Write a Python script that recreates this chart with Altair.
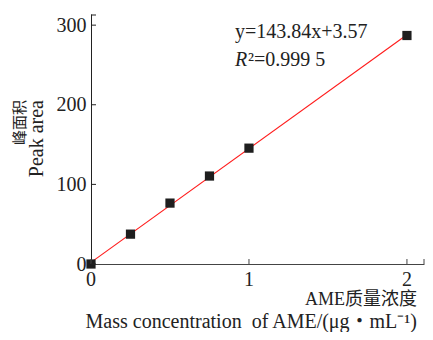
import altair as alt
import pandas as pd

# data
conc = [0, 0.25, 0.5, 0.75, 1.0, 2.0]
area = [0, 37.5, 76.5, 110.5, 145.5, 287.0]
fit_x = [0, 2.0]
fit_y = [2.0, 288.0]
x_ticks = [0, 1, 2]
x_tick_labels = ["0", "1", "2"]
y_ticks = [0, 100, 200, 300]
x_domain = [0, 2.108]
y_domain = [0, 314]
equation = "y=143.84x+3.57"
r2_symbol = "R"
r2_rest = "²=0.999 5"
x_title_cn = "AME质量浓度"
x_title_en = "Mass concentration\u00a0\u00a0of AME/(μg・mL⁻¹)"
y_title_cn = "峰面积"
y_title_en = "Peak area"

FONT = "Liberation Serif, Times New Roman, Noto Sans CJK SC"
INK = "#222222"
W, H = 333, 250

pts = pd.DataFrame({"x": conc, "y": area})
fit = pd.DataFrame({"x": fit_x, "y": fit_y})
xt = pd.DataFrame({"x": x_ticks, "lab": x_tick_labels})
yt = pd.DataFrame({"y": y_ticks})
one = pd.DataFrame({"a": [0]})

xs = alt.Scale(domain=x_domain, nice=False, zero=False)
ys = alt.Scale(domain=y_domain, nice=False, zero=False)

x_axis = alt.Axis(values=x_ticks, ticks=False, grid=False, domainColor="#444444",
                  labels=False, title="")
y_axis = alt.Axis(values=y_ticks, ticks=False, grid=False, domainColor="#222222",
                  labelFont=FONT, labelFontSize=20, labelColor=INK, labelPadding=5,
                  labelFlush=False, labelOverlap=False, labelBound=False,
                  format="d", title="")

X = lambda: alt.X("x:Q", scale=xs, axis=x_axis, title="")
Y = lambda: alt.Y("y:Q", scale=ys, axis=y_axis, title="")

line = alt.Chart(fit).mark_line(color="#ff1a1a", strokeWidth=1.1, clip=False).encode(
    x=X(), y=Y()
)
points = alt.Chart(pts).mark_square(size=85, color="#1e1e1e", opacity=1, clip=False).encode(
    x=X(), y=Y()
)
xtick = alt.Chart(xt).mark_rule(color="#444444").encode(
    x=X(), y=alt.value(H), y2=alt.value(H - 5)
)
xlab = alt.Chart(xt).mark_text(font=FONT, fontSize=20, color=INK, baseline="middle",
                               align="center").encode(
    x=X(), y=alt.value(H + 16), text="lab:N"
)
ytick = alt.Chart(yt).mark_rule(color="#222222").encode(
    y=Y(), x=alt.value(0), x2=alt.value(5)
)
end_x = alt.Chart(one).mark_rule(color="#444444").encode(
    x=alt.value(W), y=alt.value(H), y2=alt.value(H - 5)
)
end_y = alt.Chart(one).mark_rule(color="#222222").encode(
    y=alt.value(1), x=alt.value(0), x2=alt.value(5)
)

def txt(s, x, y, size, **kw):
    return alt.Chart(one).mark_text(text=s, font=FONT, fontSize=size, color=INK, **kw).encode(
        x=alt.value(x), y=alt.value(y)
    )

eq = txt(equation, 144, 18, 20, align="left", baseline="middle")
r_sym = txt(r2_symbol, 144, 46, 20, align="left", baseline="middle", fontStyle="italic")
r_rest = txt(r2_rest, 157, 46, 20, align="left", baseline="middle")
yt_cn = txt(y_title_cn, -71, 86, 15, align="right", baseline="middle", angle=270)
yt_en = txt(y_title_en, -54, 86, 20, align="right", baseline="middle", angle=270)
xt_cn = txt(x_title_cn, 326, 286, 18, align="right", baseline="middle")
xt_en = txt(x_title_en, 326, 308, 20, align="right", baseline="middle")

chart = alt.layer(line, points, xtick, xlab, ytick, end_x, end_y, eq, r_sym, r_rest,
                  yt_cn, yt_en, xt_cn, xt_en).properties(
    width=W, height=H,
    autosize=alt.AutoSizeParams(type="none"),
    padding={"left": 83, "top": 6, "right": 1, "bottom": 68},
).configure_view(stroke=None)

chart.save("out.html", embed_options={"renderer": "svg", "actions": False})
